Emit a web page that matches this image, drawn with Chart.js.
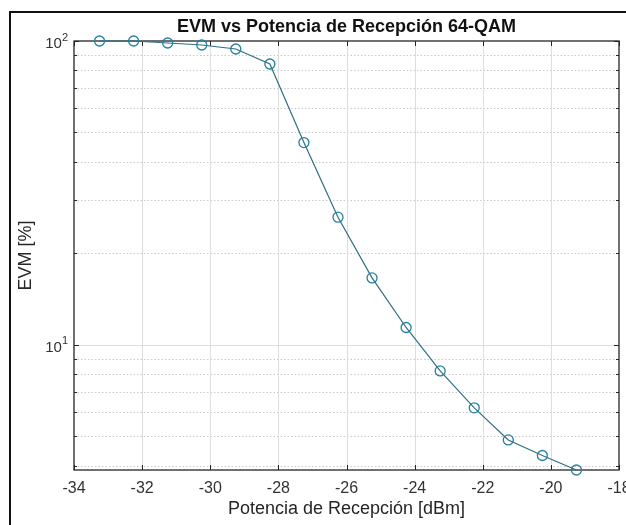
<!DOCTYPE html>
<html>
<head>
<meta charset="utf-8">
<script src="https://cdn.jsdelivr.net/npm/chart.js@4/dist/chart.umd.min.js"></script>
<style>
  html, body { margin: 0; padding: 0; background: #fff; }
  #wrap { position: relative; width: 626px; height: 525px; overflow: hidden; background: #fff; }
  #c { position: absolute; left: 0; top: 0; }
  #frame { position: absolute; left: 9px; top: 11px; width: 700px; height: 600px;
           border-left: 2px solid #111; border-top: 2px solid #111; pointer-events: none; }
</style>
</head>
<body>
<div id="wrap">
  <canvas id="c" width="626" height="525"></canvas>
  <div id="frame"></div>
</div>
<script>
// Received power (dBm) and measured EVM (%) for the 64-QAM link
const powerDbm = [-33.25, -32.25, -31.25, -30.25, -29.25, -28.25, -27.25, -26.25,
                  -25.25, -24.25, -23.25, -22.25, -21.25, -20.25, -19.25];
const evmPct   = [100, 100, 98.5, 97, 94.1, 84.0, 46.3, 26.3,
                  16.6, 11.4, 8.2, 6.2, 4.86, 4.32, 3.87];

// Axis ticks
const xTickValues = [-34, -32, -30, -28, -26, -24, -22, -20, -18];
const yMajorTicks = [10, 100];
const yMinorTicks = [4, 5, 6, 7, 8, 9, 20, 30, 40, 50, 60, 70, 80, 90];

const chartTitle = 'EVM vs Potencia de Recepción 64-QAM';
const xTitle = 'Potencia de Recepción [dBm]';
const yTitle = 'EVM [%]';

const FONT = '"Liberation Sans", Arial, Helvetica, sans-serif';
Chart.defaults.font.family = FONT;

// MATLAB-style axes: grid, minor dotted grid, boxed axes with inward ticks
const matlabAxes = {
  id: 'matlabAxes',
  beforeDatasetsDraw(chart) {
    const { ctx, chartArea: a, scales: { x, y } } = chart;
    const hline = (py) => { ctx.beginPath(); ctx.moveTo(a.left, py); ctx.lineTo(a.right, py); ctx.stroke(); };
    const vline = (px) => { ctx.beginPath(); ctx.moveTo(px, a.top); ctx.lineTo(px, a.bottom); ctx.stroke(); };
    ctx.save();
    ctx.lineWidth = 1;

    // minor grid (dotted)
    ctx.strokeStyle = '#c8c8c8';
    ctx.setLineDash([1.5, 2]);
    yMinorTicks.forEach(v => {
      if (v <= y.min || v >= y.max) return;
      hline(Math.round(y.getPixelForValue(v)) + 0.5);
    });
    ctx.setLineDash([]);

    // major grid
    ctx.strokeStyle = '#dedede';
    xTickValues.forEach(v => {
      if (v <= x.min || v >= x.max) return;
      vline(Math.round(x.getPixelForValue(v)) + 0.5);
    });
    yMajorTicks.forEach(v => {
      if (v <= y.min || v >= y.max) return;
      hline(Math.round(y.getPixelForValue(v)) + 0.5);
    });

    // box
    ctx.strokeStyle = '#262626';
    ctx.lineWidth = 1.3;
    ctx.strokeRect(a.left, a.top, a.right - a.left, a.bottom - a.top);

    // inward ticks
    ctx.lineWidth = 1;
    xTickValues.forEach(v => {
      const px = Math.round(x.getPixelForValue(v)) + 0.5;
      ctx.beginPath();
      ctx.moveTo(px, a.bottom); ctx.lineTo(px, a.bottom - 5);
      ctx.moveTo(px, a.top); ctx.lineTo(px, a.top + 5);
      ctx.stroke();
    });
    const yTick = (v, len) => {
      if (v < y.min || v > y.max) return;
      const py = Math.round(y.getPixelForValue(v)) + 0.5;
      ctx.beginPath();
      ctx.moveTo(a.left, py); ctx.lineTo(a.left + len, py);
      ctx.moveTo(a.right, py); ctx.lineTo(a.right - len, py);
      ctx.stroke();
    };
    yMajorTicks.forEach(v => yTick(v, 5));
    yMinorTicks.forEach(v => yTick(v, 3));
    ctx.restore();
  },
  afterDraw(chart) {
    const { ctx, chartArea: a, scales: { y } } = chart;
    ctx.save();
    // power-of-ten tick labels
    ctx.fillStyle = '#333';
    ctx.textAlign = 'right';
    ctx.textBaseline = 'alphabetic';
    yMajorTicks.forEach(v => {
      const py = y.getPixelForValue(v);
      const exp = String(Math.round(Math.log10(v)));
      const right = a.left - 6;
      ctx.font = '11px ' + FONT;
      const w = ctx.measureText(exp).width;
      ctx.fillText(exp, right, py - 0.5);
      ctx.font = '15px ' + FONT;
      ctx.fillText('10', right - w, py + 7);
    });
    // title
    ctx.fillStyle = '#111';
    ctx.textAlign = 'center';
    ctx.font = 'bold 18px ' + FONT;
    ctx.fillText(chartTitle, (a.left + a.right) / 2, 32);
    ctx.restore();
  }
};

new Chart(document.getElementById('c'), {
  type: 'line',
  data: {
    datasets: [{
      data: powerDbm.map((p, i) => ({ x: p, y: evmPct[i] })),
      borderColor: '#2f6f82',
      borderWidth: 1.2,
      tension: 0,
      pointStyle: 'circle',
      pointRadius: 5,
      pointBorderWidth: 1.3,
      pointBorderColor: '#24809e',
      pointBackgroundColor: 'rgba(0,0,0,0)',
      clip: false
    }]
  },
  options: {
    responsive: false,
    animation: false,
    devicePixelRatio: 1,
    layout: { padding: { top: 41, right: 7, bottom: 0, left: 0 } },
    plugins: { legend: { display: false }, tooltip: { enabled: false }, title: { display: false } },
    scales: {
      x: {
        type: 'linear',
        min: xTickValues[0],
        max: xTickValues[xTickValues.length - 1],
        afterBuildTicks: (s) => { s.ticks = xTickValues.map(v => ({ value: v })); },
        ticks: { color: '#333', font: { size: 16 }, padding: 9, maxRotation: 0, autoSkip: false },
        grid: { display: false, drawTicks: false },
        border: { display: false },
        title: { display: true, text: xTitle, color: '#262626', font: { size: 18 }, padding: { top: 0, bottom: 5 } },
        afterFit: (s) => { s.height = 55; s.paddingLeft = 0; s.paddingRight = 0; }
      },
      y: {
        type: 'logarithmic',
        min: Math.min(...evmPct),
        max: 100,
        ticks: { display: false },
        grid: { display: false, drawTicks: false },
        border: { display: false },
        title: { display: true, text: yTitle, color: '#262626', font: { size: 18 }, padding: { top: 15, bottom: 0 } },
        afterFit: (s) => { s.width = 74; s.paddingTop = 0; s.paddingBottom = 0; }
      }
    }
  },
  plugins: [matlabAxes]
});
</script>
</body>
</html>
